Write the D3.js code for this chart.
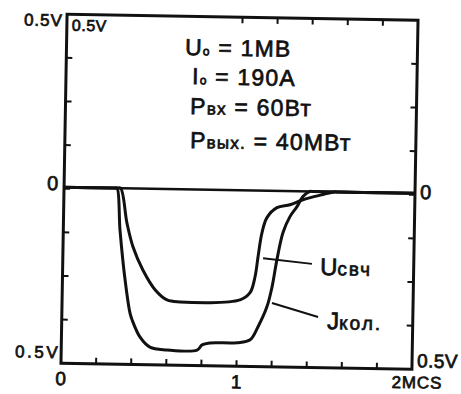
<!DOCTYPE html>
<html>
<head>
<meta charset="utf-8">
<script src="https://cdn.jsdelivr.net/npm/d3@7/dist/d3.min.js"></script>
<style>
  html, body { margin: 0; padding: 0; background: #ffffff; }
  svg { display: block; }
  text { font-family: "Liberation Sans", Arial, sans-serif; fill: #111; stroke: #111; stroke-width: 0.7px; }
</style>
</head>
<body>
<svg id="chart" width="461" height="394"></svg>
<script>
// ---- data (time in µs, signal in V) ----
const timeJ = [0, 0.29, 0.302, 0.323, 0.357, 0.388, 0.401, 0.448, 0.505, 0.603, 0.774, 0.802, 0.847, 1.001, 1.075, 1.119, 1.168, 1.195, 1.220, 1.252, 1.290, 1.329, 1.362, 1.40, 1.42, 2];
const iKol  = [0, 0, 0, -0.120, -0.263, -0.357, -0.377, -0.426, -0.454, -0.461, -0.460, -0.445, -0.439, -0.437, -0.428, -0.390, -0.332, -0.275, -0.197, -0.119, -0.073, -0.044, -0.015, 0, 0, 0];

const timeU = [0, 0.30, 0.322, 0.362, 0.399, 0.458, 0.53, 0.598, 0.672, 1.014, 1.070, 1.097, 1.112, 1.132, 1.159, 1.215, 1.289, 1.362, 1.476, 1.54, 1.56, 2];
const uSvch = [0, 0, 0, -0.100, -0.168, -0.234, -0.290, -0.318, -0.323, -0.314, -0.293, -0.247, -0.190, -0.121, -0.077, -0.048, -0.039, -0.024, -0.008, 0, 0, 0];

const xTicksBottom = [0.2, 0.4, 0.6, 0.8, 1.0, 1.2, 1.4, 1.6, 1.8];
const xTicksTop = [1.0, 1.2, 1.4, 1.6, 1.8];
const yTicks = [-0.375, -0.25, -0.125, 0, 0.125, 0.25, 0.375];
const xTickLabels = [{v: 0, t: "0"}, {v: 1, t: "1"}];
const xEndLabel = "2 MCS";
const yTopLabel = "0.5V";
const yZeroLabel = "0";
const seriesNames = ["Uсвч", "Jкол."];
const seriesAnchors = [[1.141, -0.189], [1.196, -0.317]];
const seriesLeaderEnds = [[1.420, -0.203], [1.460, -0.355]];
const seriesLabelPos = [[1.467, -0.2345], [1.512, -0.389]];
const paramLines = [
  {main: "U", sub: "o", rest: " = 1МВ", pos: [0.676, 0.389]},
  {main: "I", sub: "o", rest: " = 190А", pos: [0.719, 0.306]},
  {main: "Р", sub: "", rest: "вх = 60Вт", pos: [0.711, 0.220]},
  {main: "Р", sub: "", rest: "вых. = 40МВт", pos: [0.714, 0.123]}
];

// ---- layout ----
const svg = d3.select("#chart");
const mLeft = 64, mRight = 415, mTop = 17.25, mBottom = 366.25;
const x = d3.scaleLinear().domain([0, 2]).range([mLeft, mRight]);
const y = d3.scaleLinear().domain([-0.5, 0.5]).range([mBottom, mTop]);
const ink = "#111";

const g = svg.append("g")
  .attr("transform", `rotate(1, ${(mLeft + mRight) / 2}, ${(mTop + mBottom) / 2})`);

// frame
g.append("rect")
  .attr("x", mLeft).attr("y", mTop)
  .attr("width", mRight - mLeft).attr("height", mBottom - mTop)
  .attr("fill", "none").attr("stroke", ink).attr("stroke-width", 3);

// ticks (inward)
const tl = 6;
g.append("g").selectAll("line").data(xTicksBottom).join("line")
  .attr("x1", d => x(d)).attr("x2", d => x(d))
  .attr("y1", mBottom).attr("y2", mBottom - tl)
  .attr("stroke", ink).attr("stroke-width", 2);
g.append("g").selectAll("line").data(xTicksTop).join("line")
  .attr("x1", d => x(d)).attr("x2", d => x(d))
  .attr("y1", mTop).attr("y2", mTop + tl)
  .attr("stroke", ink).attr("stroke-width", 2);
g.append("g").selectAll("line").data(yTicks).join("line")
  .attr("x1", mLeft).attr("x2", mLeft + tl)
  .attr("y1", d => y(d)).attr("y2", d => y(d))
  .attr("stroke", ink).attr("stroke-width", 2);
g.append("g").selectAll("line").data(yTicks).join("line")
  .attr("x1", mRight).attr("x2", mRight - tl)
  .attr("y1", d => y(d)).attr("y2", d => y(d))
  .attr("stroke", ink).attr("stroke-width", 2);

// zero line
g.append("line")
  .attr("x1", x(0)).attr("x2", x(2))
  .attr("y1", y(0) - 1.5).attr("y2", y(0) - 1.5)
  .attr("stroke", ink).attr("stroke-width", 2.5);

// traces
const line = d3.line()
  .x(d => x(d[0])).y(d => y(d[1]) - 1.5)
  .curve(d3.curveCatmullRom.alpha(0.5));
const seriesData = [
  d3.zip(timeU, uSvch),
  d3.zip(timeJ, iKol)
];
g.append("g").selectAll("path").data(seriesData).join("path")
  .attr("d", line)
  .attr("fill", "none").attr("stroke", ink)
  .attr("stroke-width", 3).attr("stroke-linejoin", "round");

// leaders and series labels
g.append("g").selectAll("line").data(seriesNames).join("line")
  .attr("x1", (d, i) => x(seriesAnchors[i][0])).attr("y1", (d, i) => y(seriesAnchors[i][1]))
  .attr("x2", (d, i) => x(seriesLeaderEnds[i][0])).attr("y2", (d, i) => y(seriesLeaderEnds[i][1]))
  .attr("stroke", ink).attr("stroke-width", 2);

seriesNames.forEach((name, i) => {
  const t = g.append("text")
    .attr("x", x(seriesLabelPos[i][0])).attr("y", y(seriesLabelPos[i][1]));
  t.append("tspan").attr("font-size", 24).text(name.charAt(0));
  t.append("tspan").attr("font-size", 19).attr("letter-spacing", 2).text(name.slice(1));
});

// parameter block
paramLines.forEach(p => {
  const t = g.append("text")
    .attr("x", x(p.pos[0])).attr("y", y(p.pos[1]))
    .attr("font-size", 23).attr("letter-spacing", 1.2);
  t.append("tspan").text(p.main);
  if (p.sub) t.append("tspan").attr("font-size", 12).text(p.sub);
  const parts = p.rest.match(/^([а-яa-z.]*)(.*)$/);
  if (parts[1]) t.append("tspan").attr("font-size", 17).text(parts[1]);
  t.append("tspan").text(parts[2]);
});

// axis labels
g.append("text").attr("x", mLeft - 4).attr("y", mTop + 12)
  .attr("text-anchor", "end").attr("font-size", 17).attr("letter-spacing", 1).text(yTopLabel);
g.append("text").attr("x", mLeft + 5).attr("y", mTop + 16.5)
  .attr("font-size", 16).attr("letter-spacing", 0.5).text(yTopLabel);
g.append("text").attr("x", mLeft - 1).attr("y", mBottom - 5)
  .attr("text-anchor", "end").attr("font-size", 17).attr("letter-spacing", 2.5).text(yTopLabel);
g.append("text").attr("x", mRight + 5).attr("y", mBottom - 2)
  .attr("font-size", 19).attr("letter-spacing", 0.5).text(yTopLabel);
g.append("text").attr("x", mLeft - 6).attr("y", y(0) + 1.5)
  .attr("text-anchor", "end").attr("font-size", 20).text(yZeroLabel);
g.append("text").attr("x", mRight + 5).attr("y", y(0) + 4)
  .attr("font-size", 20).text(yZeroLabel);
g.append("g").selectAll("text").data(xTickLabels).join("text")
  .attr("x", d => x(d.v)).attr("y", mBottom + 22)
  .attr("text-anchor", "middle").attr("font-size", 19).text(d => d.t);
g.append("text").attr("x", x(2) - 20).attr("y", mBottom + 19)
  .attr("font-size", 17).attr("letter-spacing", 0.8).text(xEndLabel.replace(" ", ""));
</script>
</body>
</html>
